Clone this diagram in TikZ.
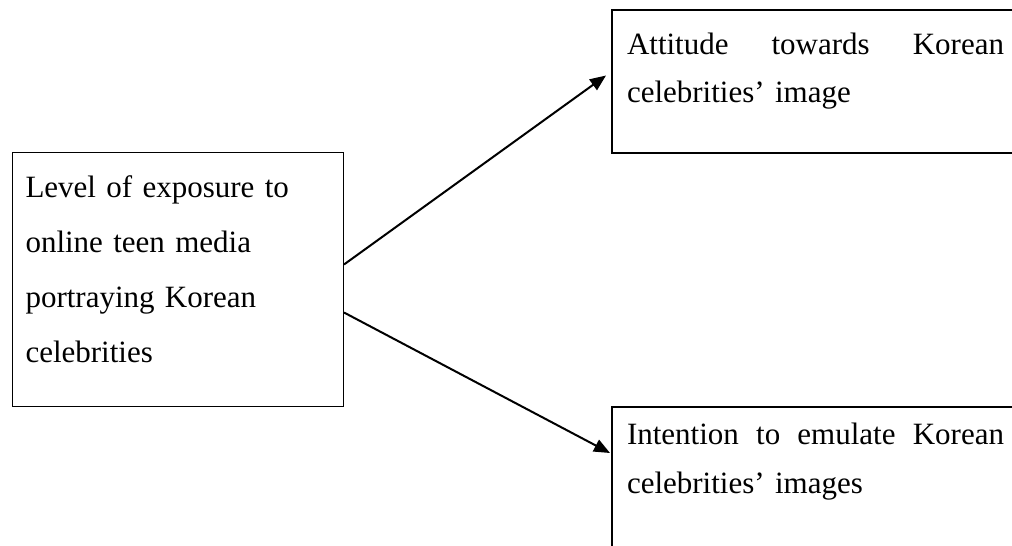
\documentclass[tikz,border=0pt]{standalone}
\usepackage{fontspec}
\setmainfont{Liberation Serif}
\usetikzlibrary{arrows.meta}
\begin{document}
\begin{tikzpicture}[x=1pt,y=-1pt,
  box/.style={draw, anchor=north west, inner ysep=0pt, align=left},
  arr/.style={line width=2pt, -{Triangle[length=16pt,width=13pt]}}]
\useasboundingbox (0,0) rectangle (1012,546);
\node[box, line width=1pt, inner xsep=13pt, text width=305pt, text height=45pt, text depth=209pt,
  font=\fontsize{31}{55}\selectfont] (L) at (12,152)
  {Level of exposure to\\online teen media\\portraying Korean\\celebrities};
\node[box, line width=2pt, inner xsep=15pt, text width=377pt, text height=44pt, text depth=99pt,
  font=\fontsize{31}{48}\selectfont] (A) at (611,9)
  {Attitude\hfill towards\hfill Korean\\celebrities’ image};
\node[box, line width=2pt, inner xsep=15pt, text width=377pt, text height=37pt, text depth=200pt,
  font=\fontsize{31}{49}\selectfont] (B) at (611,406)
  {Intention\hfill to\hfill emulate\hfill Korean\\celebrities’ images};
\draw[arr] ([yshift=15pt]L.east) -- ([xshift=-5pt,yshift=6pt]A.west);
\draw[arr] ([yshift=-33pt]L.east) -- ([xshift=-1pt,yshift=-47pt]B.north west);
\end{tikzpicture}
\end{document}
